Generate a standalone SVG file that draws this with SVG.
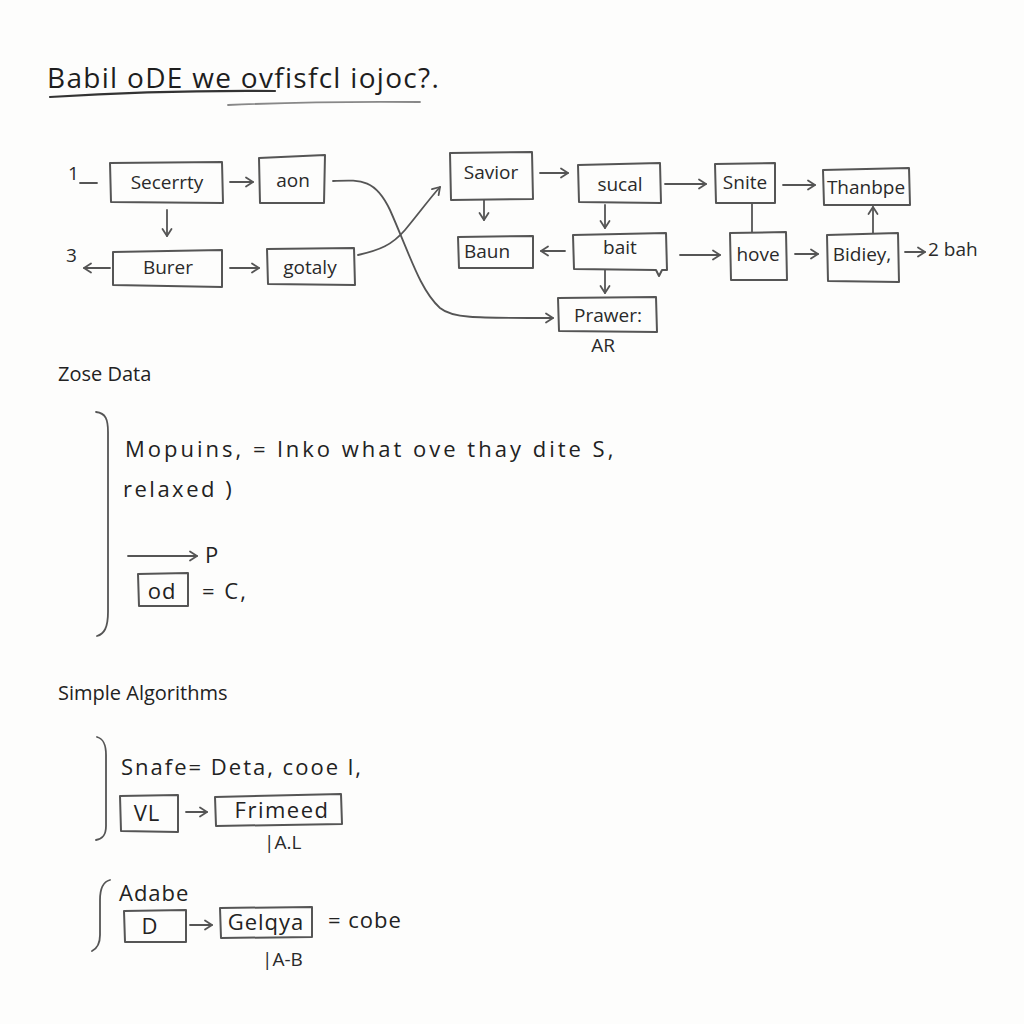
<svg xmlns="http://www.w3.org/2000/svg" width="1024" height="1024" viewBox="0 0 1024 1024">
<defs>
<marker id="ah" markerWidth="12" markerHeight="12" refX="9" refY="6" orient="auto" markerUnits="userSpaceOnUse">
<path d="M2,1.5 L9,6 L2,10.5" fill="none" stroke="#555" stroke-width="1.8" stroke-linecap="round" stroke-linejoin="round"/>
</marker>
</defs>
<style>
.bg{fill:#fdfdfc}
.box{fill:#fdfdfc;stroke:#555;stroke-width:2;stroke-linejoin:round}
.t{font-family:"Open Sans","DejaVu Sans",sans-serif;fill:#2a2a2a;font-size:19px}
.tc{text-anchor:middle}
.c{fill:none;stroke:#555;stroke-width:1.8;stroke-linecap:round}
.ca{fill:none;stroke:#555;stroke-width:1.8;stroke-linecap:round;marker-end:url(#ah)}
.h{font-family:"Open Sans","DejaVu Sans",sans-serif;fill:#222;font-size:20px}
.big{font-family:"Open Sans","DejaVu Sans",sans-serif;fill:#222;font-size:22px;letter-spacing:1px}
</style>
<rect class="bg" x="0" y="0" width="1024" height="1024"/>

<g id="title">
<text x="47" y="88" style="font-family:'Open Sans','DejaVu Sans',sans-serif;font-size:28px;fill:#1e1e1e;letter-spacing:1.3px">Babil oDE we ovfisfcl iojoc?.</text>
<path d="M50,97 Q160,90 275,91" class="c" style="stroke:#333;stroke-width:2.2"/>
<path d="M228,105 Q320,101 420,102" class="c" style="stroke:#888"/>
</g>

<g id="connectors">
<path class="c" d="M80,183 L97,183"/>
<path class="ca" d="M230,182 L253,182"/>
<path class="ca" d="M167,210 L167,236"/>
<path class="ca" d="M110,268 L84,268"/>
<path class="ca" d="M230,268 L259,268"/>
<path class="ca" d="M333,181 C360,180 375,178 390,210 C410,255 420,290 440,308 C452,318 470,318 553,318"/>
<path class="ca" d="M358,255 C380,250 392,245 405,230 C420,212 430,198 440,187"/>
<path class="ca" d="M540,173 L568,173"/>
<path class="ca" d="M665,184 L706,184"/>
<path class="ca" d="M783,185 L815,185"/>
<path class="ca" d="M484,200 L484,220"/>
<path class="ca" d="M565,251 L541,251"/>
<path class="ca" d="M605,205 L605,228"/>
<path class="ca" d="M680,255 L720,255"/>
<path class="c" d="M752,203 L752,232"/>
<path class="ca" d="M795,254 L818,254"/>
<path class="ca" d="M873,233 L873,207"/>
<path class="ca" d="M905,252 L925,252"/>
<path class="ca" d="M605,270 L605,293"/>
<path class="ca" d="M128,556 L197,556"/>
<path class="ca" d="M186,812 L207,812"/>
<path class="ca" d="M190,925 L212,925"/>
</g>

<g id="n-1"><text class="t" x="68" y="180">1</text></g>
<g id="n-secerrty"><path class="box" d="M110,163 L222,162 L223,203 L111,202 Z"/><text class="t tc" x="167" y="189">Secerrty</text></g>
<g id="n-aon"><path class="box" d="M259,158 L325,155 L324,203 L260,203 Z"/><text class="t tc" x="293" y="187">aon</text></g>
<g id="n-3"><text class="t" x="66" y="262">3</text></g>
<g id="n-burer"><path class="box" d="M113,252 L222,250 L222,287 L113,285 Z"/><text class="t tc" x="168" y="274">Burer</text></g>
<g id="n-gotaly"><path class="box" d="M267,249 L354,248 L355,285 L268,284 Z"/><text class="t tc" x="310" y="274">gotaly</text></g>

<g id="n-savior"><path class="box" d="M450,153 L532,152 L533,199 L451,200 Z"/><text class="t tc" x="491" y="179">Savior</text></g>
<g id="n-sucal"><path class="box" d="M578,165 L660,163 L661,203 L579,202 Z"/><text class="t tc" x="620" y="191">sucal</text></g>
<g id="n-snite"><path class="box" d="M715,164 L775,163 L775,203 L716,203 Z"/><text class="t tc" x="745" y="189">Snite</text></g>
<g id="n-thanbpe"><path class="box" d="M823,170 L909,168 L910,205 L824,205 Z"/><text class="t tc" x="866" y="194">Thanbpe</text></g>
<g id="n-baun"><path class="box" d="M458,237 L533,236 L533,268 L459,268 Z"/><text class="t tc" x="487" y="258">Baun</text></g>
<g id="n-bait"><path class="box" d="M573,235 L666,233 L667,270 L662,270 L659,276 L656,270 L574,269 Z"/><text class="t tc" x="620" y="254">bait</text></g>
<g id="n-hove"><path class="box" d="M730,233 L786,232 L787,280 L731,280 Z"/><text class="t tc" x="758" y="261">hove</text></g>
<g id="n-bidiey"><path class="box" d="M827,235 L898,233 L899,282 L828,281 Z"/><text class="t tc" x="862" y="261">Bidiey,</text></g>
<g id="n-2bah"><text class="t" x="928" y="256">2 bah</text></g>
<g id="n-prawer"><path class="box" d="M558,298 L656,297 L657,332 L559,331 Z"/><text class="t tc" x="608" y="322">Prawer:</text><text class="t tc" x="603" y="352">AR</text></g>

<g id="sec-zose">
<text class="h" x="58" y="381">Zose Data</text>
<path class="c" d="M96,412 C106,413 108,420 108,432 L108,612 C108,628 104,634 97,636"/>
<text class="big" x="125" y="457" style="letter-spacing:3px">Mopuins, = lnko what ove thay dite S,</text>
<text class="big" x="123" y="497" style="letter-spacing:2.5px">relaxed )</text>
<text class="big" x="205" y="563">P</text>
<g id="n-od"><path class="box" d="M138,574 L188,573 L188,606 L139,606 Z"/><text class="big tc" x="162" y="599">od</text></g>
<text class="big" x="202" y="599" style="letter-spacing:2px">= C,</text>
</g>

<g id="sec-simple">
<text class="h" x="58" y="700">Simple Algorithms</text>
<path class="c" d="M97,737 C104,739 106,745 106,755 L106,826 C106,836 102,839 96,840"/>
<text class="big" x="121" y="775" style="letter-spacing:2px">Snafe= Deta, cooe  l,</text>
<g id="n-vl"><path class="box" d="M120,796 L178,795 L178,832 L121,831 Z"/><text class="big tc" x="147" y="821">VL</text></g>
<g id="n-frimeed"><path class="box" d="M215,797 L341,794 L342,824 L216,826 Z"/><text class="big tc" x="282" y="818" style="letter-spacing:1.5px">Frimeed</text></g>
<text class="t" x="264" y="849">|A.L</text>
<path class="c" d="M110,880 C102,882 100,890 100,900 L100,935 C100,945 96,949 92,951"/>
<text class="big" x="119" y="901">Adabe</text>
<g id="n-d"><path class="box" d="M124,911 L186,910 L186,942 L125,942 Z"/><text class="big tc" x="150" y="934">D</text></g>
<g id="n-gelqya"><path class="box" d="M220,908 L312,907 L312,937 L221,938 Z"/><text class="big tc" x="266" y="930">Gelqya</text></g>
<text class="big" x="328" y="928">= cobe</text>
<text class="t" x="262" y="966">|A-B</text>
</g>
</svg>
